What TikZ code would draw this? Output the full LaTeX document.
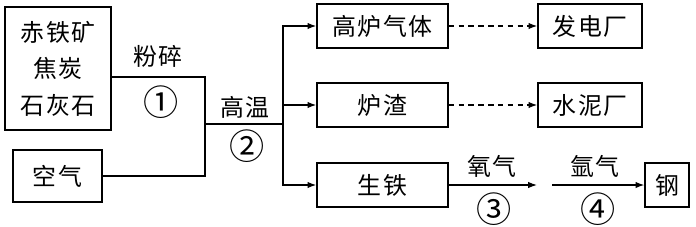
\documentclass[tikz,border=0pt]{standalone}
\usepackage{fontspec}
\newfontfamily\cjk[LetterSpace=6]{Noto Sans CJK SC}
\usetikzlibrary{arrows.meta, positioning}

\begin{document}
\begin{tikzpicture}[
        x=0.025cm, y=-0.025cm,
        every node/.style={font=\cjk\fontsize{17}{26}\selectfont},
        box/.style={rectangle, draw, line width=0.9pt, align=center, inner sep=0pt,
                   minimum height=1.1cm},
        arrow/.style={-{Latex[length=2.2mm, width=1.6mm]}, line width=0.9pt},
        dasharrow/.style={arrow, dash pattern=on 4pt off 3pt},
        lbl/.style={inner sep=1pt},
        num/.style={inner sep=0pt, font=\cjk\fontsize{25}{26}\selectfont}
    ]
    \useasboundingbox (0,0) rectangle (696,226);

    % raw materials
    \node[box, minimum width=2.65cm, minimum height=3.075cm] (ore) at (58,68.5) {赤铁矿\\焦炭\\石灰石};
    \node[box, minimum width=2.225cm, minimum height=1.3cm] (air) at (57.5,176) {空气};

    % products
    \node[box, minimum width=3.275cm] (gas) at (382.5,26) {高炉气体};
    \node[box, minimum width=3.275cm] (slag) at (382.5,105) {炉渣};
    \node[box, minimum width=3.275cm] (iron) at (382.5,185) {生铁};
    \node[box, minimum width=2.6cm] (power) at (590,26) {发电厂};
    \node[box, minimum width=2.6cm] (cement) at (590,105) {水泥厂};
    \node[box, minimum width=1.1cm] (steel) at (667,185) {钢};

    \coordinate (k1) at (205,77);
    \coordinate (j1) at (205,124);
    \coordinate (j2) at (283,124);
    \coordinate (c3) at (537,185);
    \coordinate (c4) at (552,185);

    % step labels
    \node[lbl] (crush) at (158,56) {粉碎};
    \node[num] (s1) at (161,102) {①};
    \node[lbl] (heat) at (245,107) {高温};
    \node[num] (s2) at (247,146) {②};
    \node[lbl] (oxy) at (492,166) {氧气};
    \node[num] (s3) at (494,209) {③};
    \node[lbl] (argon) at (595,166) {氩气};
    \node[num] (s4) at (598,209) {④};

    \draw[line width=0.9pt] (ore.east |- k1) -- (k1) -- (j1);
    \draw[line width=0.9pt] (air.east) -| (j1) -- (j2);
    \draw[arrow] (j2) |- (gas.west);
    \draw[arrow] (j2) |- (slag.west);
    \draw[arrow] (j2) |- (iron.west);
    \draw[dasharrow] (gas) -- (power);
    \draw[dasharrow] (slag) -- (cement);
    \draw[arrow] (iron) -- (c3);
    \draw[arrow] (c4) -- (steel);

\end{tikzpicture}
\end{document}
